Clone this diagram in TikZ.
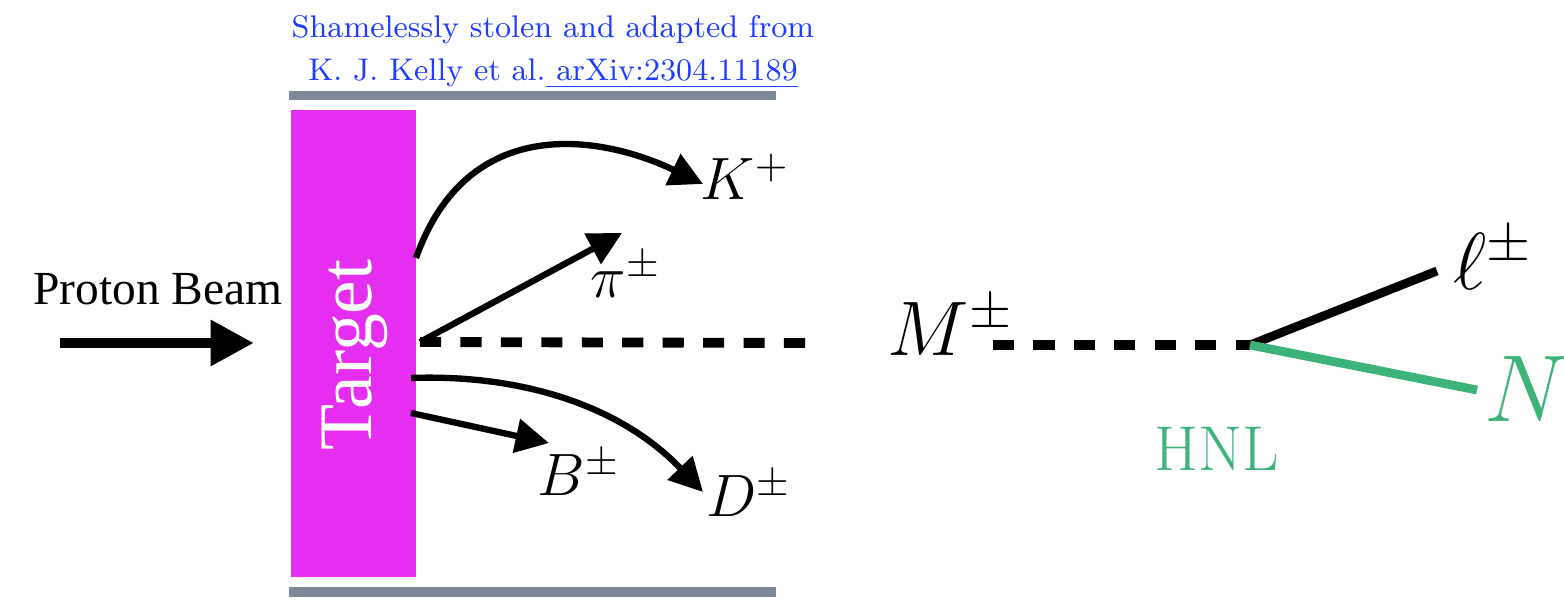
\documentclass[tikz,border=0pt]{standalone}
\usepackage{fix-cm}
\usepackage{fontspec}
\newfontfamily\timesfont{Liberation Serif}
\usetikzlibrary{arrows.meta}
\definecolor{targetpink}{RGB}{230,46,240}
\definecolor{pipegray}{RGB}{125,136,152}
\definecolor{linkblue}{RGB}{30,60,255}
\definecolor{hnlgreen}{RGB}{60,179,120}
\tikzset{
    beam/.style={line width=3.1pt, -{Triangle[length=12.3pt,width=12.3pt]}},
    particle/.style={line width=1.8pt, -{Triangle[length=9.5pt,width=9.5pt]}},
    meson/.style={line width=2.8pt, dash pattern=on 6pt off 5.5pt},
    lepton/.style={line width=2.5pt},
    symbol/.style={anchor=base west, inner sep=0pt},
}
\begin{document}
\begin{tikzpicture}[x=0.01cm,y=-0.01cm]
        \useasboundingbox (0,0) rectangle (1564,601);
        % credit
            \node[linkblue, align=center, font=\fontsize{8.9}{12.2}\selectfont] (credit) at (553,52)
                {Shamelessly stolen and adapted from\\ K. J. Kelly et al.\underline{\ arXiv:2304.11189}};
        % pipe and target
            \fill[pipegray] (289,91) rectangle (776,100);
            \fill[pipegray] (289,587) rectangle (776,597);
            \node[fill=targetpink, minimum width=1.25cm, minimum height=4.67cm, inner sep=0pt] (target) at (353.5,343.5) {};
            \node[rotate=90, white, font=\timesfont\fontsize{21.5}{22}\selectfont] (targetlabel) at (355,355) {Target};
        % beam
            \node[anchor=base, font=\timesfont\fontsize{13.5}{14}\selectfont] (beamlabel) at (158,305) {Proton Beam};
            \coordinate (beamstart) at (60,343);
            \coordinate (beamend) at (254,343);
            \draw[beam] (beamstart) -- (beamend);
        % mesons
            \foreach \n/\x/\y/\t in {kaon/700/200/K^+, pion/590/298/\pi^\pm, bmeson/537/496/B^\pm, dmeson/706/517/D^\pm}{
                \node[symbol, font=\fontsize{17}{20}\selectfont] (\n) at (\x,\y) {$\t$};
            }
            \coordinate (kstart) at (416,258);
            \coordinate (ktip) at (703,184);
            \coordinate (pistart) at (420,342);
            \coordinate (pitip) at (622,233);
            \coordinate (dstart) at (411,378);
            \coordinate (dtip) at (703,492);
            \coordinate (bstart) at (411,413);
            \coordinate (btip) at (549,443);
            \coordinate (dashend) at (805,343);
            \draw[meson] (pistart) -- (dashend);
            \draw[particle] (kstart) .. controls (468,111) and (603,136) .. (ktip);
            \draw[particle] (pistart) -- (pitip);
            \draw[particle] (dstart) .. controls (520,374) and (620,405) .. (dtip);
            \draw[particle] (bstart) -- (btip);
        % decay
            \node[symbol, font=\fontsize{22}{26}\selectfont] (meson) at (887,356) {$M^\pm$};
            \node[symbol, font=\fontsize{23}{27}\selectfont] (lepton) at (1453,290) {$\ell^\pm$};
            \node[symbol, hnlgreen, font=\fontsize{27}{31}\selectfont] (hnl) at (1484,422) {$N$};
            \node[symbol, hnlgreen, font=\fontsize{18}{21}\selectfont] (hnllabel) at (1154,471) {HNL};
            \coordinate (mstart) at (993,345);
            \coordinate (vertex) at (1250,345);
            \coordinate (lend) at (1437,271);
            \coordinate (nend) at (1477,390);
            \draw[meson] (mstart) -- (vertex);
            \draw[lepton] (vertex) -- (lend);
            \draw[lepton, hnlgreen] (vertex) -- (nend);
        \end{tikzpicture}
\end{document}
